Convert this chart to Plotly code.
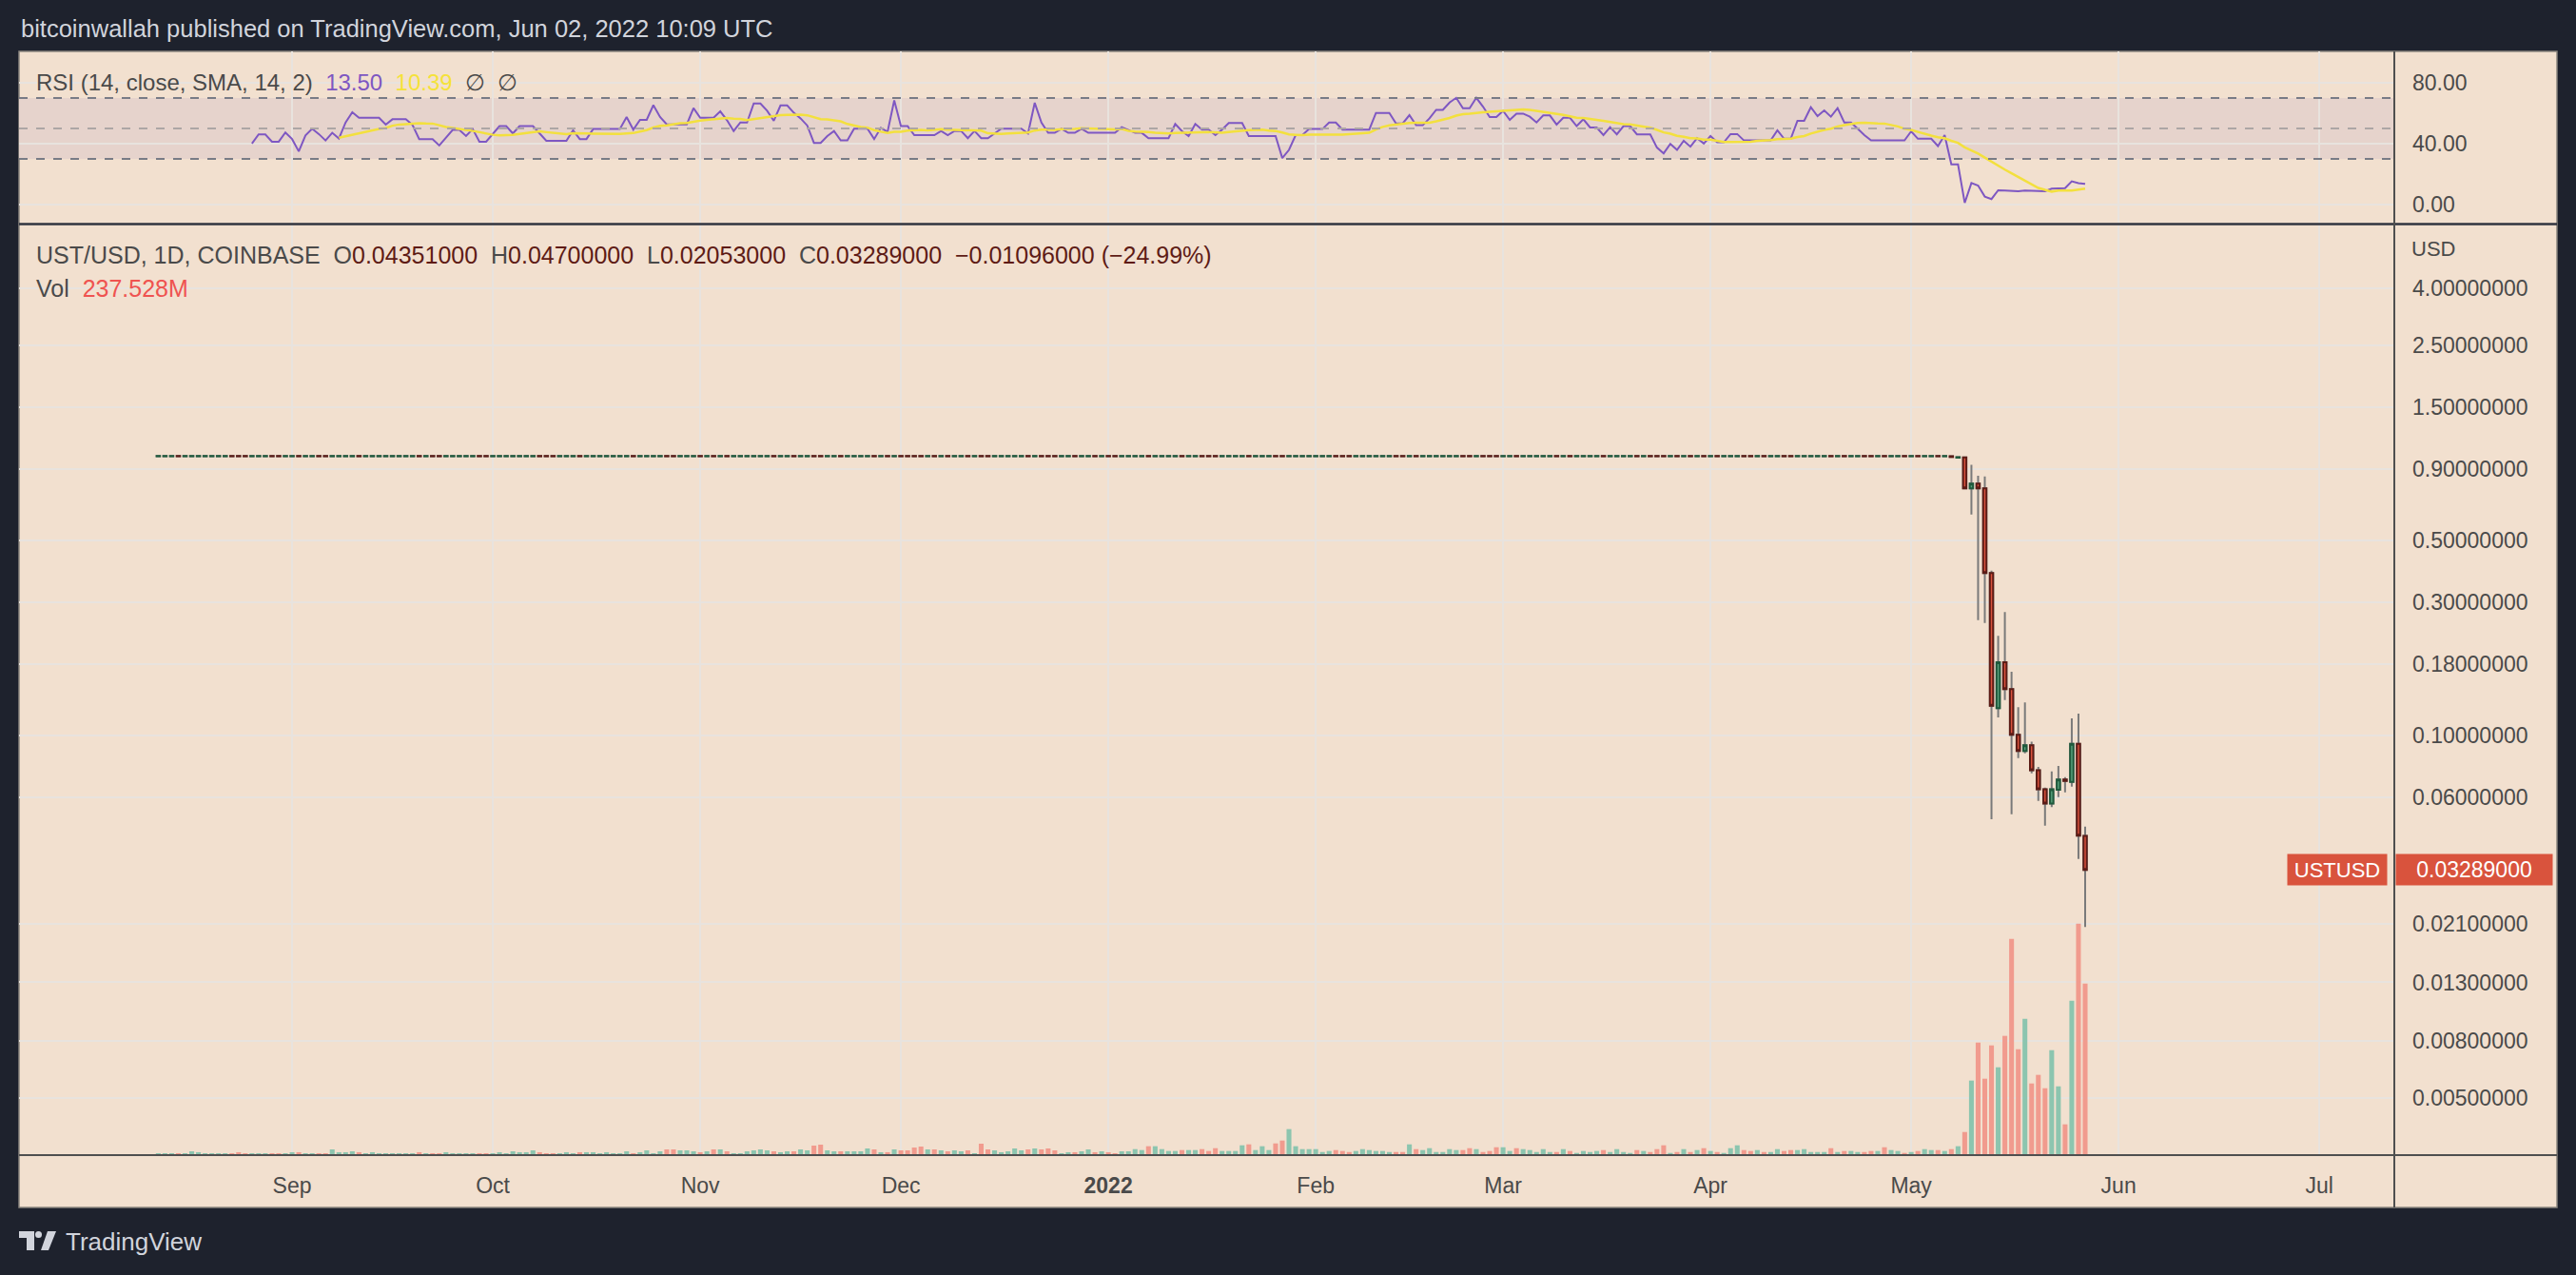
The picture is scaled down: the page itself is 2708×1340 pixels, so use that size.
import math
import pandas as pd
import plotly.graph_objects as go

# daily bars, Aug 12 2021 .. May 27 2022
dates = pd.date_range("2021-08-12", "2022-05-27", freq="D")

# flat ~1.00 period (Aug 12 .. May 6): open / close per day
flat_open = [
    0.999, 0.999, 0.999, 1.001, 0.999, 0.999, 0.999, 0.999, 0.999, 0.999,
    0.999, 1.001, 1.001, 1.001, 0.999, 0.999, 0.999, 1.001, 1.001, 0.999,
    0.999, 1.001, 0.999, 0.999, 1.001, 1.001, 0.999, 0.999, 0.999, 0.999,
    1.001, 0.999, 0.999, 0.999, 0.999, 0.999, 0.999, 0.999, 0.999, 1.001,
    0.999, 1.001, 1.001, 0.999, 0.999, 0.999, 0.999, 0.999, 1.001, 1.001,
    0.999, 0.999, 0.999, 0.999, 0.999, 0.999, 0.999, 1.001, 1.001, 1.001,
    0.999, 0.999, 0.999, 1.001, 0.999, 0.999, 0.999, 0.999, 0.999, 0.999,
    0.999, 1.001, 0.999, 0.999, 0.999, 0.999, 1.001, 1.001, 0.999, 0.999,
    0.999, 1.001, 0.999, 1.001, 0.999, 1.001, 0.999, 0.999, 0.999, 0.999,
    0.999, 0.999, 1.001, 0.999, 0.999, 1.001, 0.999, 0.999, 1.001, 1.001,
    0.999, 0.999, 1.001, 0.999, 0.999, 0.999, 0.999, 1.001, 0.999, 1.001,
    0.999, 1.001, 1.001, 1.001, 1.001, 0.999, 1.001, 0.999, 1.001, 0.999,
    0.999, 1.001, 0.999, 1.001, 1.001, 0.999, 0.999, 0.999, 0.999, 0.999,
    1.001, 0.999, 1.001, 1.001, 1.001, 0.999, 0.999, 1.001, 0.999, 0.999,
    1.001, 0.999, 1.001, 1.001, 0.999, 0.999, 0.999, 0.999, 1.001, 0.999,
    0.999, 0.999, 0.999, 1.001, 0.999, 0.999, 1.001, 1.001, 1.001, 0.999,
    0.999, 0.999, 0.999, 1.001, 0.999, 0.999, 0.999, 1.001, 1.001, 0.999,
    0.999, 0.999, 0.999, 0.999, 0.999, 0.999, 1.001, 1.001, 1.001, 0.999,
    0.999, 0.999, 0.999, 0.999, 0.999, 1.001, 1.001, 0.999, 1.001, 0.999,
    0.999, 0.999, 0.999, 0.999, 0.999, 1.001, 1.001, 0.999, 1.001, 1.001,
    1.001, 0.999, 0.999, 1.001, 0.999, 0.999, 0.999, 0.999, 0.999, 1.001,
    0.999, 1.001, 0.999, 0.999, 0.999, 0.999, 1.001, 0.999, 0.999, 0.999,
    0.999, 1.001, 0.999, 1.001, 1.001, 1.001, 0.999, 1.001, 0.999, 1.001,
    0.999, 1.001, 0.999, 1.001, 0.999, 0.999, 0.999, 1.001, 1.001, 0.999,
    1.001, 0.999, 0.999, 1.001, 1.001, 0.999, 0.999, 0.999, 0.999, 0.999,
    1.001, 0.999, 1.001, 0.999, 0.999, 1.001, 1.001, 0.999, 1.001, 0.999,
    0.999, 1.001, 0.999, 1.001, 0.999, 0.999, 1.001, 0.999,
]
flat_close = [
    1.001, 1.001, 1.001, 0.999, 1.001, 1.001, 1.001, 1.001, 1.001, 1.001,
    1.001, 0.999, 0.999, 0.999, 1.001, 1.001, 1.001, 0.999, 0.999, 1.001,
    1.001, 0.999, 1.001, 1.001, 0.999, 0.999, 1.001, 1.001, 1.001, 1.001,
    0.999, 1.001, 1.001, 1.001, 1.001, 1.001, 1.001, 1.001, 1.001, 0.999,
    1.001, 0.999, 0.999, 1.001, 1.001, 1.001, 1.001, 1.001, 0.999, 0.999,
    1.001, 1.001, 1.001, 1.001, 1.001, 1.001, 1.001, 0.999, 0.999, 0.999,
    1.001, 1.001, 1.001, 0.999, 1.001, 1.001, 1.001, 1.001, 1.001, 1.001,
    1.001, 0.999, 1.001, 1.001, 1.001, 1.001, 0.999, 0.999, 1.001, 1.001,
    1.001, 0.999, 1.001, 0.999, 1.001, 0.999, 1.001, 1.001, 1.001, 1.001,
    1.001, 1.001, 0.999, 1.001, 1.001, 0.999, 1.001, 1.001, 0.999, 0.999,
    1.001, 1.001, 0.999, 1.001, 1.001, 1.001, 1.001, 0.999, 1.001, 0.999,
    1.001, 0.999, 0.999, 0.999, 0.999, 1.001, 0.999, 1.001, 0.999, 1.001,
    1.001, 0.999, 1.001, 0.999, 0.999, 1.001, 1.001, 1.001, 1.001, 1.001,
    0.999, 1.001, 0.999, 0.999, 0.999, 1.001, 1.001, 0.999, 1.001, 1.001,
    0.999, 1.001, 0.999, 0.999, 1.001, 1.001, 1.001, 1.001, 0.999, 1.001,
    1.001, 1.001, 1.001, 0.999, 1.001, 1.001, 0.999, 0.999, 0.999, 1.001,
    1.001, 1.001, 1.001, 0.999, 1.001, 1.001, 1.001, 0.999, 0.999, 1.001,
    1.001, 1.001, 1.001, 1.001, 1.001, 1.001, 0.999, 0.999, 0.999, 1.001,
    1.001, 1.001, 1.001, 1.001, 1.001, 0.999, 0.999, 1.001, 0.999, 1.001,
    1.001, 1.001, 1.001, 1.001, 1.001, 0.999, 0.999, 1.001, 0.999, 0.999,
    0.999, 1.001, 1.001, 0.999, 1.001, 1.001, 1.001, 1.001, 1.001, 0.999,
    1.001, 0.999, 1.001, 1.001, 1.001, 1.001, 0.999, 1.001, 1.001, 1.001,
    1.001, 0.999, 1.001, 0.999, 0.999, 0.999, 1.001, 0.999, 1.001, 0.999,
    1.001, 0.999, 1.001, 0.999, 1.001, 1.001, 1.001, 0.999, 0.999, 1.001,
    0.999, 1.001, 1.001, 0.999, 0.999, 1.001, 1.001, 1.001, 1.001, 1.001,
    0.999, 1.001, 0.999, 1.001, 1.001, 0.999, 0.999, 1.001, 0.999, 1.001,
    1.001, 0.999, 1.001, 0.999, 1.001, 1.001, 0.999, 1.001,
]

# depeg candles, May 7 .. May 27
crash_open = [0.998, 0.986, 0.989, 0.766, 0.796, 0.766, 0.381, 0.1248, 0.1824, 0.146, 0.1002,
              0.0877, 0.0919, 0.0749, 0.0640, 0.0569, 0.0637, 0.0693, 0.0680, 0.0931, 0.04351]
crash_high = [1.000, 0.994, 0.990, 0.931, 0.850, 0.844, 0.388, 0.2267, 0.276, 0.1686, 0.1258,
              0.1309, 0.0948, 0.0769, 0.0649, 0.0741, 0.0775, 0.0707, 0.1148, 0.1194, 0.047]
crash_low = [0.990, 0.984, 0.766, 0.617, 0.258, 0.252, 0.0499, 0.1156, 0.1336, 0.052, 0.0827,
             0.0861, 0.0730, 0.0581, 0.0474, 0.0552, 0.0600, 0.0624, 0.0654, 0.0360, 0.02053]
crash_close = [0.992, 0.990, 0.766, 0.796, 0.766, 0.381, 0.1274, 0.1824, 0.146, 0.1002, 0.0877,
               0.0919, 0.0749, 0.0640, 0.0569, 0.0640, 0.0693, 0.0685, 0.0931, 0.0436, 0.03289]

# volume, millions
volume_m = [
    2.6, 2.6, 2.6, 2.6, 2.6, 5.3, 4.0, 2.6, 2.6, 2.6,
    2.6, 2.6, 4.0, 2.6, 2.6, 2.6, 2.6, 2.6, 2.6, 2.6,
    4.0, 4.0, 2.6, 2.6, 2.6, 2.6, 7.9, 4.0, 4.0, 5.3,
    4.0, 2.6, 4.0, 2.6, 2.6, 2.6, 2.6, 2.6, 2.6, 4.0,
    2.6, 2.6, 2.6, 4.0, 2.6, 2.6, 2.6, 2.6, 2.6, 2.6,
    2.6, 4.0, 2.6, 5.3, 4.0, 4.0, 6.6, 4.0, 2.6, 2.6,
    2.6, 4.0, 2.6, 4.0, 4.0, 4.0, 2.6, 4.0, 2.6, 2.6,
    5.3, 2.6, 4.0, 6.6, 2.6, 5.3, 7.9, 7.9, 6.6, 6.6,
    5.3, 4.0, 5.3, 7.9, 7.9, 5.3, 2.6, 2.6, 5.3, 6.6,
    7.9, 6.6, 5.3, 4.0, 5.3, 5.3, 7.9, 6.6, 13.2, 14.5,
    6.6, 5.3, 5.3, 5.3, 5.3, 5.3, 9.2, 7.9, 4.0, 4.0,
    7.9, 6.6, 6.6, 10.5, 11.9, 7.9, 7.9, 6.6, 5.3, 6.6,
    5.3, 6.6, 2.6, 15.8, 7.9, 6.6, 4.0, 5.3, 9.2, 6.6,
    7.9, 9.2, 7.9, 9.2, 6.6, 2.6, 4.0, 4.0, 5.3, 7.9,
    4.0, 5.3, 4.0, 2.6, 5.3, 5.3, 8.3, 7.0, 12.3, 12.3,
    8.3, 5.7, 5.7, 7.0, 7.0, 7.0, 8.3, 5.7, 9.6, 5.7,
    5.7, 5.7, 13.6, 14.9, 7.0, 12.3, 7.0, 16.2, 20.2, 36.0,
    12.3, 8.3, 8.3, 8.3, 4.3, 5.7, 7.0, 5.7, 4.3, 5.7,
    8.3, 7.0, 5.7, 5.7, 4.3, 4.3, 4.3, 14.9, 8.3, 7.0,
    9.6, 4.3, 4.3, 8.3, 7.0, 7.0, 9.6, 8.3, 4.3, 5.7,
    10.9, 10.9, 5.7, 9.6, 8.3, 7.0, 4.3, 8.3, 4.3, 4.3,
    8.3, 5.7, 3.0, 5.7, 4.3, 5.7, 7.0, 4.3, 8.3, 4.3,
    3.0, 7.0, 5.7, 4.3, 8.3, 13.6, 3.0, 4.3, 8.3, 4.3,
    7.0, 9.6, 5.7, 4.3, 3.0, 9.6, 13.6, 7.0, 5.7, 7.0,
    4.3, 4.3, 8.3, 5.7, 7.0, 7.0, 8.3, 4.3, 4.3, 4.3,
    9.6, 4.3, 5.7, 5.7, 4.3, 4.3, 5.7, 5.7, 10.9, 7.0,
    5.7, 3.0, 4.3, 5.7, 8.3, 7.0, 7.0, 5.7, 8.3,
    12.3, 32.0, 103.2, 155.8, 105.8, 151.9, 121.6, 165.1, 299.4, 146.6,
    188.8, 99.2, 111.1, 92.6, 145.3, 95.2, 42.6, 213.8, 320.5, 237.5,
]

# RSI(14), first value on day 15
rsi = [None] * 14 + [
    40.1, 46.1, 46.1, 41.3, 41.3, 47.3, 43.0, 34.9, 45.4, 49.8,
    46.3, 42.1, 47.1, 43.4, 53.9, 60.6, 57.0, 57.0, 57.0, 57.0,
    52.5, 56.0, 56.0, 56.0, 52.3, 43.0, 43.0, 43.0, 38.8, 43.6,
    49.0, 49.0, 45.0, 49.6, 41.3, 41.3, 46.7, 51.5, 51.5, 46.7,
    51.5, 51.5, 51.5, 46.7, 41.9, 41.9, 41.9, 41.9, 48.8, 43.0,
    43.0, 49.6, 49.6, 49.6, 49.6, 49.6, 57.5, 49.2, 55.6, 55.6,
    65.3, 57.5, 52.7, 52.7, 52.7, 52.7, 63.3, 57.0, 57.0, 57.0,
    61.2, 55.4, 48.3, 53.9, 53.9, 66.4, 66.4, 61.6, 55.0, 65.1,
    65.1, 60.2, 56.6, 51.9, 40.5, 40.5, 45.0, 48.3, 42.1, 42.1,
    49.8, 49.8, 49.8, 43.0, 50.4, 47.7, 68.4, 51.5, 51.5, 45.6,
    45.6, 45.6, 45.6, 48.3, 45.6, 48.3, 48.3, 43.6, 48.3, 43.6,
    43.6, 46.7, 49.8, 49.8, 49.8, 49.8, 46.7, 66.8, 53.9, 47.1,
    47.1, 49.8, 47.1, 47.1, 49.8, 47.1, 47.1, 47.1, 47.1, 47.1,
    50.8, 49.2, 47.1, 47.1, 43.6, 43.6, 43.6, 43.6, 52.9, 48.3,
    45.0, 52.9, 49.2, 49.2, 45.6, 49.2, 53.5, 53.5, 53.5, 45.0,
    45.0, 45.0, 45.0, 45.0, 30.5, 35.9, 45.6, 45.6, 49.6, 49.6,
    49.6, 53.9, 53.9, 49.2, 49.2, 49.2, 49.2, 49.2, 60.2, 60.2,
    60.2, 53.3, 53.3, 58.7, 52.1, 52.1, 56.6, 62.2, 62.2, 67.0,
    70.1, 63.3, 63.3, 70.1, 64.3, 57.5, 57.5, 61.6, 55.6, 59.7,
    59.7, 57.7, 53.9, 58.5, 58.5, 52.5, 57.0, 57.0, 51.5, 56.0,
    50.6, 50.6, 45.6, 50.8, 46.1, 51.5, 51.5, 46.1, 46.1, 46.1,
    37.4, 33.6, 39.8, 35.9, 41.9, 38.0, 43.6, 40.1, 45.0, 40.9,
    40.9, 46.3, 46.3, 42.1, 42.1, 42.1, 42.1, 42.1, 48.8, 43.2,
    43.2, 55.0, 55.0, 63.9, 58.1, 61.8, 57.7, 63.3, 53.9, 53.9,
    49.8, 45.6, 42.1, 42.1, 42.1, 42.1, 42.1, 42.1, 48.1, 43.2,
    43.2, 43.2, 38.4, 45.6, 26.4, 26.4, 1.1, 14.1, 12.5, 5.2,
    3.6, 9.4, 9.2, 8.8, 8.8, 9.2, 9.0, 9.0, 8.8, 10.4,
    10.8, 10.8, 15.2, 14.1, 13.5,
]

price_ticks = [4.0, 2.5, 1.5, 0.9, 0.5, 0.3, 0.18, 0.1, 0.06, 0.021, 0.013, 0.008, 0.005]
rsi_ticks = [0, 40, 80]
month_ticks = ["2021-09-01", "2021-10-01", "2021-11-01", "2021-12-01", "2022-01-01", "2022-02-01",
               "2022-03-01", "2022-04-01", "2022-05-01", "2022-06-01", "2022-07-01"]
month_labels = ["Sep", "Oct", "Nov", "Dec", "<b>2022</b>", "Feb", "Mar", "Apr", "May", "Jun", "Jul"]

W, H = 2708, 1340
def px(x):
    return x / W
def py(y):
    return 1 - y / H

BG = "#F2E0CF"
GRID = "#E8E3DE"
TXT = "#4A4A4A"
FONT = "Liberation Sans"

opens = flat_open + crash_open
closes = flat_close + crash_close
highs = [max(o, c) for o, c in zip(flat_open, flat_close)] + crash_high
lows = [min(o, c) for o, c in zip(flat_open, flat_close)] + crash_low
body_hi = [max(o, c) for o, c in zip(opens, closes)]
body_lo = [min(o, c) for o, c in zip(opens, closes)]
vol_colors = ["#8CC5AF" if c >= o else "#F19B8E" for o, c in zip(opens, closes)]
rsi_sma = pd.Series(rsi, dtype=float).rolling(14).mean()

fig = go.Figure()

fig.add_trace(go.Bar(x=dates, y=volume_m, marker=dict(color=vol_colors, line=dict(width=0)),
                     width=0.72 * 86400000, yaxis="y3", xaxis="x"))
# wicks
fig.add_trace(go.Candlestick(
    x=dates, open=opens, high=highs, low=lows, close=closes, whiskerwidth=0,
    increasing=dict(line=dict(color="#7A7A7A", width=2), fillcolor="rgba(0,0,0,0)"),
    decreasing=dict(line=dict(color="#7A7A7A", width=2), fillcolor="rgba(0,0,0,0)"),
    xaxis="x", yaxis="y"))
# bodies
fig.add_trace(go.Candlestick(
    x=dates, open=opens, high=body_hi, low=body_lo, close=closes, whiskerwidth=0,
    increasing=dict(line=dict(color="#1F5A3C", width=2), fillcolor="#58A07C"),
    decreasing=dict(line=dict(color="#5C1C16", width=2), fillcolor="#DA533E"),
    xaxis="x", yaxis="y"))

fig.add_trace(go.Scatter(x=dates, y=rsi, mode="lines", line=dict(color="#7E57C2", width=2),
                         xaxis="x2", yaxis="y2"))
fig.add_trace(go.Scatter(x=dates, y=rsi_sma, mode="lines", line=dict(color="#F3E03E", width=2.5),
                         xaxis="x2", yaxis="y2"))

last_close = crash_close[-1]
last_log = math.log10(last_close)

shapes = [
    dict(type="rect", xref="paper", yref="paper", x0=px(20), x1=px(2688), y0=py(1269), y1=py(54),
         fillcolor=BG, line=dict(color="#8A857F", width=1.5), layer="below"),
    dict(type="rect", xref="x2 domain", yref="y2", x0=0, x1=1, y0=30, y1=70,
         fillcolor="#E6D3CC", line=dict(width=0), layer="below"),
    dict(type="line", xref="x2 domain", yref="y2", x0=0, x1=1, y0=70, y1=70,
         line=dict(color="#787B86", width=2, dash="dash")),
    dict(type="line", xref="x2 domain", yref="y2", x0=0, x1=1, y0=50, y1=50,
         line=dict(color="#ADA6A5", width=2, dash="dash")),
    dict(type="line", xref="x2 domain", yref="y2", x0=0, x1=1, y0=30, y1=30,
         line=dict(color="#787B86", width=2, dash="dash")),
    dict(type="line", xref="x domain", yref="y", x0=0, x1=1, y0=last_log, y1=last_log,
         line=dict(color="#D9533D", width=1.5, dash="dot")),
    dict(type="line", xref="paper", yref="paper", x0=px(20), x1=px(2688), y0=py(235.5), y1=py(235.5),
         line=dict(color="#30343F", width=2.5)),
    dict(type="line", xref="paper", yref="paper", x0=px(20), x1=px(2688), y0=py(1214), y1=py(1214),
         line=dict(color="#4F4F4F", width=2)),
    dict(type="line", xref="paper", yref="paper", x0=px(2517), x1=px(2517), y0=py(1269), y1=py(54),
         line=dict(color="#4F4F4F", width=2)),
    # TradingView logo
    dict(type="path", xref="paper", yref="paper", fillcolor="#D1D4DC", line=dict(width=0),
         path="M {a},{b} L {c},{b} L {c},{d} L {e},{d} L {e},{f} L {a},{f} Z".format(
             a=px(20), b=py(1294), c=px(36), d=py(1314), e=px(28), f=py(1301))),
    dict(type="circle", xref="paper", yref="paper", fillcolor="#D1D4DC", line=dict(width=0),
         x0=px(37), x1=px(44), y0=py(1301), y1=py(1294)),
    dict(type="path", xref="paper", yref="paper", fillcolor="#D1D4DC", line=dict(width=0),
         path="M {a},{b} L {c},{b} L {d},{e} L {f},{e} Z".format(
             a=px(50), b=py(1294), c=px(59), d=px(51), e=py(1314), f=px(43))),
]

sp = "\u00a0\u00a0"
val = "#5E1B15"
annotations = [
    dict(text="bitcoinwallah published on TradingView.com, Jun 02, 2022 10:09 UTC",
         x=px(20), y=py(30), xanchor="left", yanchor="middle",
         font=dict(size=25.5, color="#D1D4DC")),
    dict(text=("RSI (14, close, SMA, 14, 2)" + sp + "<span style='color:#7E57C2'>13.50</span>" + sp
               + "<span style='color:#F5E23A'>10.39</span>" + sp + "\u2205" + sp + "\u2205"),
         x=px(36), y=py(87), xanchor="left", yanchor="middle", font=dict(size=24, color=TXT)),
    dict(text=("UST/USD, 1D, COINBASE" + sp
               + "O<span style='color:%s'>0.04351000</span>" % val + sp
               + "H<span style='color:%s'>0.04700000</span>" % val + sp
               + "L<span style='color:%s'>0.02053000</span>" % val + sp
               + "C<span style='color:%s'>0.03289000</span>" % val + sp
               + "<span style='color:%s'>\u22120.01096000 (\u221224.99%%)</span>" % val),
         x=px(36), y=py(268), xanchor="left", yanchor="middle", font=dict(size=25, color=TXT)),
    dict(text="Vol" + sp + "<span style='color:#EF5350'>237.528M</span>",
         x=px(36), y=py(303), xanchor="left", yanchor="middle", font=dict(size=25, color=TXT)),
    dict(text="USD", x=px(2533), y=py(262), xanchor="left", yanchor="middle",
         font=dict(size=22, color=TXT)),
    dict(text="%.8f" % last_close, xref="paper", yref="y", x=px(2518), y=last_log,
         xanchor="left", yanchor="middle", width=160, height=28, align="center",
         bgcolor="#D9533D", borderpad=2, font=dict(size=23, color="white")),
    dict(text="USTUSD", xref="paper", yref="y", x=px(2404), y=last_log,
         xanchor="left", yanchor="middle", width=100, height=28, align="center",
         bgcolor="#D9533D", borderpad=2, font=dict(size=22, color="white")),
    dict(text="TradingView", x=px(67), y=py(1305), xanchor="left", yanchor="middle",
         font=dict(size=26, color="#D1D4DC")),
]
for a in annotations:
    a.setdefault("xref", "paper")
    a.setdefault("yref", "paper")
    a["showarrow"] = False

x_range = ["2021-07-22 04:30", "2022-07-12 05:00"]
xdom = [px(20), px(2517)]

fig.update_layout(
    width=W, height=H, margin=dict(l=0, r=0, t=0, b=0),
    paper_bgcolor="#1E222D", plot_bgcolor=BG, showlegend=False,
    font=dict(family=FONT, color=TXT),
    shapes=shapes, annotations=annotations,
    xaxis=dict(domain=xdom, anchor="y", type="date", range=x_range,
               tickvals=month_ticks, ticktext=month_labels, ticks="", ticklabelstandoff=16,
               tickfont=dict(size=23, color=TXT), showgrid=True, gridcolor=GRID, gridwidth=2,
               zeroline=False, showline=False, rangeslider=dict(visible=False)),
    xaxis2=dict(domain=xdom, anchor="y2", type="date", matches="x", range=x_range,
                tickvals=month_ticks, showticklabels=False, ticks="",
                showgrid=True, gridcolor=GRID, gridwidth=2, zeroline=False,
                rangeslider=dict(visible=False)),
    yaxis=dict(domain=[py(1214), py(237)], anchor="x", type="log", range=[-2.505, 0.826],
               side="right", tickvals=price_ticks, ticktext=["%.8f" % v for v in price_ticks],
               ticks="", ticklabelstandoff=18, tickfont=dict(size=23, color=TXT),
               showgrid=True, gridcolor=GRID, gridwidth=2, zeroline=False),
    yaxis3=dict(domain=[py(1214), py(237)], anchor="x", overlaying="y", range=[0, 1287],
                visible=False),
    yaxis2=dict(domain=[py(234), py(54)], anchor="x2", range=[-11.9, 100.6], side="right",
                tickvals=rsi_ticks, ticktext=["%.2f" % v for v in rsi_ticks],
                ticks="", ticklabelstandoff=18, tickfont=dict(size=23, color=TXT),
                showgrid=True, gridcolor=GRID, gridwidth=2, zeroline=False),
)

# drop the page's default 8px body margin so the figure sits at the window origin
fig.write_html("out.html", config={"displayModeBar": False}, post_script=(
    "document.body.style.margin='0';"
    "document.body.style.background='#1E222D';"))
